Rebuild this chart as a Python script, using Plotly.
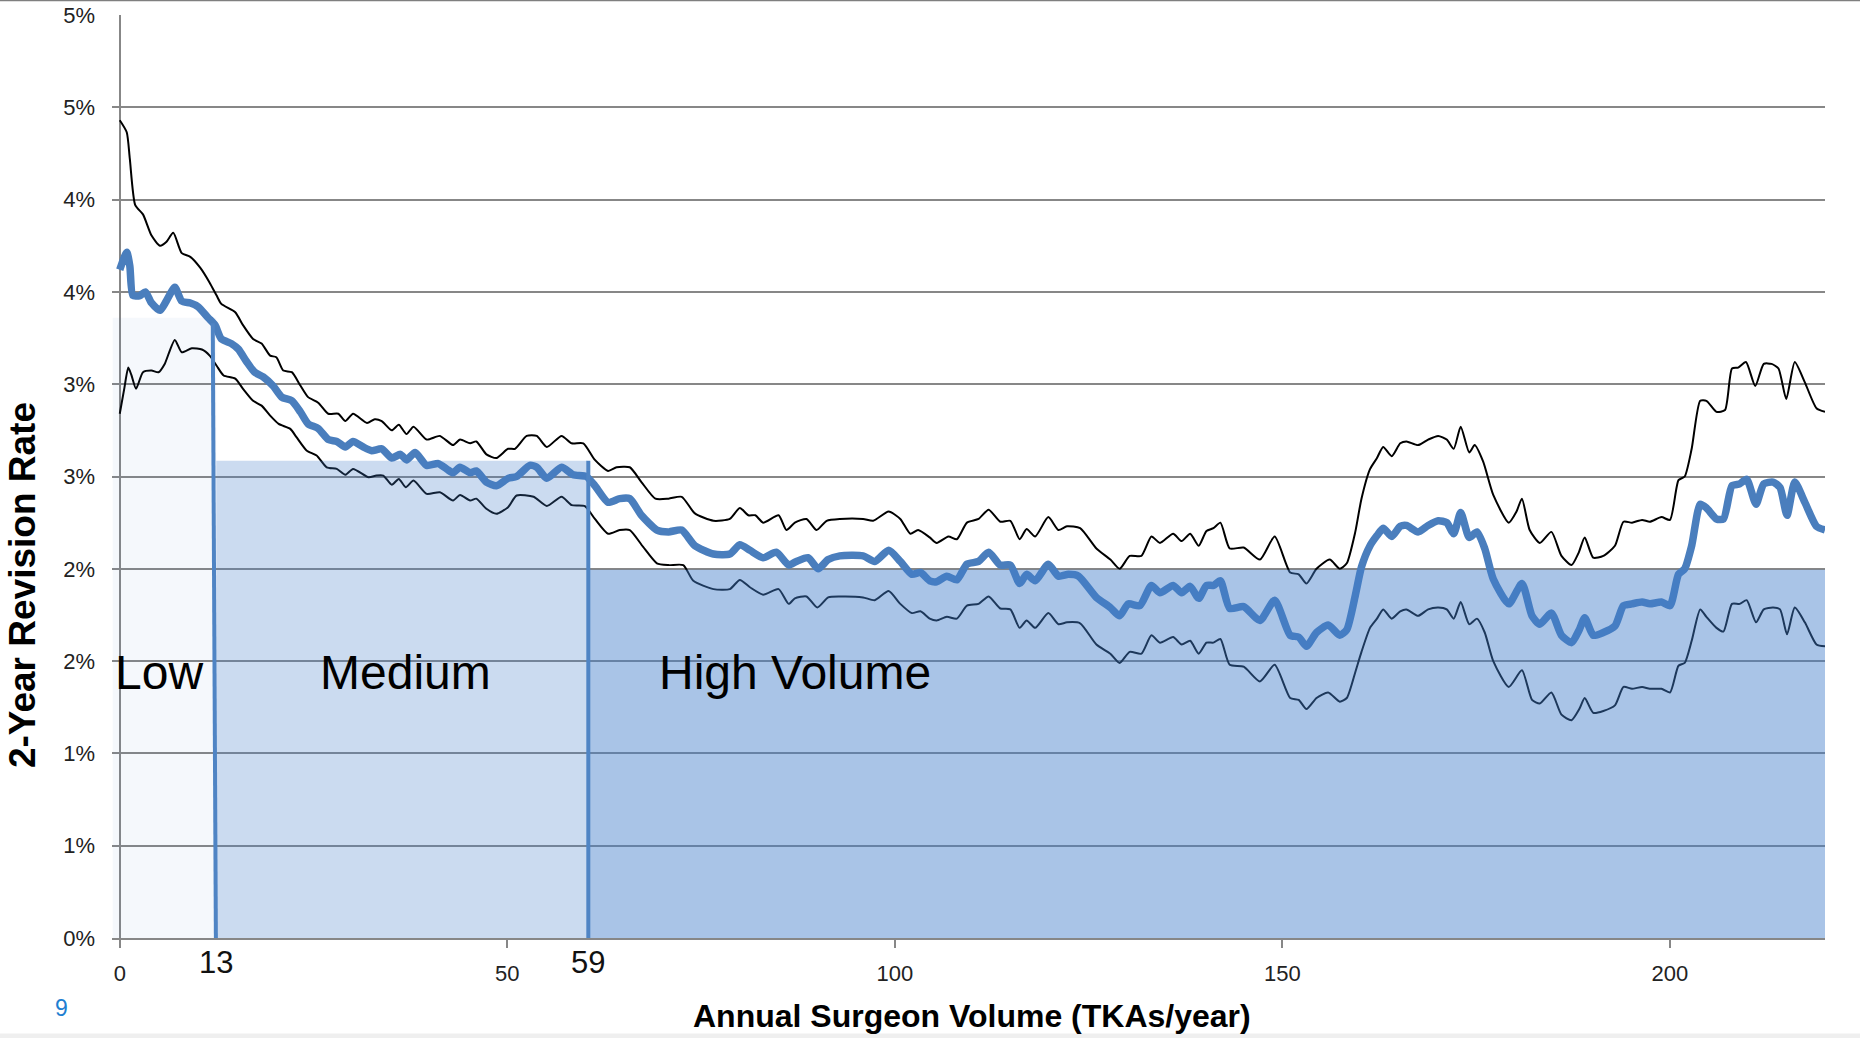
import plotly.graph_objects as go

# ---------------- data (values in %) ----------------
upper_x = [0.0, 0.9, 1.3, 2.0, 3.0, 4.1, 5.2, 6.0, 6.9, 8.0, 9.1, 10.4, 11.6, 12.5, 13.1, 14.9, 15.9, 17.2, 18.3,
           19.4, 20.2, 21.1, 22.2, 23.3, 24.3, 25.6, 26.9, 28.2, 29.1, 30.1, 31.9, 32.9, 33.8, 35.1, 36.0, 37.0,
           37.9, 39.6, 41.3, 43.0, 43.9, 45.2, 46.0, 47.3, 48.6, 50.1, 51.0,
           52.5, 53.8, 55.1, 57.0, 58.3, 59.8, 61.3, 63.0, 64.1, 65.8, 67.3, 69.1, 70.8, 72.5, 74.2, 76.6, 78.7,
           80.0, 81.1, 82.0, 83.0, 85.0, 86.0, 87.1, 88.6, 89.9, 91.2, 92.9, 95.9, 97.2, 99.2, 100.7, 102.0, 103.0,
           104.5, 105.4, 106.9, 108.0, 109.3, 110.8, 112.1, 113.6, 114.9, 116.1, 117.0, 118.1, 119.8, 121.1, 122.2,
           123.9, 126.0, 127.8, 129.0, 130.3, 131.8, 133.1, 134.2, 135.9, 137.0, 138.1, 139.2, 140.2, 141.1, 142.0,
           143.2, 145.0, 147.1, 149.0, 151.0, 152.1, 153.1, 154.4, 156.1,
           157.4, 158.3, 159.4, 160.2, 161.3, 162.2, 163.0, 164.1, 165.2, 166.0, 167.5, 168.8, 170.1, 171.2, 172.1,
           173.0, 174.1, 174.8, 175.9, 177.2, 179.2, 180.2, 180.9, 181.9, 183.2, 184.7, 186.0, 187.3, 188.2, 189.0,
           190.1, 191.4, 192.9, 194.0, 195.1, 196.4, 197.4, 198.9, 200.0, 201.1, 201.9, 202.8, 203.9, 204.7, 206.0,
           207.1, 208.0, 208.8, 209.8, 211.0, 212.1, 213.1, 214.0, 215.0, 216.1, 217.4, 218.9, 220.0]
upper_y = [4.43, 4.365, 4.22, 3.97, 3.92, 3.805, 3.75, 3.77, 3.82, 3.71, 3.69, 3.63, 3.55, 3.48, 3.435, 3.39, 3.32,
           3.245, 3.22, 3.155, 3.146, 3.074, 3.065, 2.993, 2.93, 2.90, 2.84, 2.84, 2.80, 2.84, 2.79, 2.81, 2.80,
           2.75, 2.78, 2.73, 2.77, 2.70, 2.72, 2.67, 2.70, 2.68, 2.69, 2.62, 2.60, 2.65, 2.65,
           2.72, 2.72, 2.66, 2.72, 2.68, 2.68, 2.59, 2.53, 2.55, 2.55, 2.47, 2.38, 2.38, 2.39, 2.30, 2.26, 2.27,
           2.33, 2.29, 2.29, 2.25, 2.29, 2.21, 2.25, 2.27, 2.21, 2.26, 2.27, 2.27, 2.26, 2.31, 2.27, 2.19, 2.21,
           2.17, 2.14, 2.175, 2.16, 2.25, 2.27, 2.32, 2.255, 2.26, 2.16, 2.215, 2.175, 2.28, 2.21, 2.23,
           2.22, 2.11, 2.05, 2.00, 2.07, 2.07, 2.175, 2.14, 2.19, 2.15, 2.19, 2.125, 2.205, 2.22, 2.25,
           2.11, 2.115, 2.05, 2.175, 1.98, 1.97, 1.92, 2.00, 2.05,
           2.00, 2.03, 2.20, 2.38, 2.54, 2.60, 2.66, 2.61, 2.68, 2.69, 2.67, 2.70, 2.72, 2.70, 2.65,
           2.77, 2.63, 2.67, 2.58, 2.40, 2.25, 2.31, 2.38, 2.21, 2.14, 2.20, 2.07, 2.02, 2.085, 2.17,
           2.06, 2.07, 2.125, 2.255, 2.25, 2.265, 2.255, 2.28, 2.265, 2.48, 2.50, 2.65, 2.91, 2.91, 2.85,
           2.86, 3.085, 3.09, 3.12, 2.99, 3.11, 3.11, 3.085, 2.92, 3.12, 3.01, 2.87, 2.85]

center_x = [0.0, 0.9, 1.3, 1.7, 2.6, 3.3, 4.1, 5.2, 6.0, 7.1, 8.0, 9.1, 10.1, 11.4, 12.3, 13.1, 14.4, 15.3, 16.4,
            17.4, 18.5, 19.8, 20.9, 22.2, 23.3, 24.3, 25.6, 26.9, 28.0, 29.1, 30.1, 31.4, 32.5, 33.8, 35.1, 36.2,
            37.0, 38.1, 39.6, 41.1, 42.2, 43.0, 43.9, 45.2, 46.0, 47.3, 48.6, 50.1, 51.2,
            52.9, 53.8, 55.1, 57.0, 58.5, 60.2, 61.3, 63.0, 64.5, 65.8, 67.3, 69.3, 70.8, 72.5, 74.2, 76.6, 78.7,
            80.0, 81.3, 83.0, 84.7, 86.3, 87.3, 88.8, 90.1, 91.4, 92.9, 95.9, 97.4, 99.2, 100.7, 102.2, 103.3,
            104.5, 105.4, 106.7, 108.0, 109.3, 110.8, 112.1, 113.6, 114.9, 116.1, 117.0, 118.1, 119.8, 121.1, 122.4,
            123.7, 126.0, 127.8, 129.0, 130.1, 131.6, 133.1, 134.2, 135.9, 137.0, 138.1, 139.2, 140.2, 141.1, 142.0,
            143.2, 145.0, 147.1, 149.0, 151.0, 152.1, 153.1, 154.4, 155.9,
            157.4, 158.3, 159.4, 160.2, 161.3, 162.2, 163.0, 164.1, 165.2, 166.0, 167.5, 168.8, 170.1, 171.2, 172.1,
            173.0, 174.1, 175.1, 176.1, 177.2, 179.2, 180.9, 182.2, 183.2, 184.7, 186.0, 187.3, 188.3, 189.0, 190.1,
            191.4, 192.9, 194.0, 195.1, 196.4, 197.4, 198.9, 200.0, 201.1, 201.9, 202.8, 203.9, 204.7, 206.0, 206.9,
            208.0, 209.0, 209.9, 211.1, 212.1, 213.3, 214.2, 215.1, 216.1, 217.4, 218.9, 220.0]
center_y = [3.62, 3.715, 3.64, 3.48, 3.48, 3.50, 3.44, 3.40, 3.45, 3.525, 3.45, 3.44, 3.42, 3.36, 3.32, 3.245, 3.22,
            3.19, 3.12, 3.065, 3.04, 2.99, 2.93, 2.91, 2.85, 2.785, 2.76, 2.70, 2.69, 2.66, 2.69, 2.66, 2.64, 2.65,
            2.60, 2.62, 2.59, 2.63, 2.56, 2.57, 2.54, 2.52, 2.55, 2.52, 2.53, 2.47, 2.45, 2.49, 2.50,
            2.56, 2.55, 2.49, 2.55, 2.51, 2.50, 2.45, 2.36, 2.38, 2.38, 2.29, 2.21, 2.20, 2.21, 2.125, 2.08, 2.08,
            2.13, 2.10, 2.06, 2.09, 2.02, 2.04, 2.06, 2.00, 2.05, 2.07, 2.07, 2.04, 2.10, 2.04, 1.97, 1.98,
            1.935, 1.93, 1.96, 1.94, 2.025, 2.04, 2.09, 2.02, 2.02, 1.92, 1.97, 1.935, 2.025, 1.96, 1.97,
            1.96, 1.845, 1.79, 1.745, 1.81, 1.80, 1.91, 1.87, 1.91, 1.87, 1.905, 1.84, 1.91, 1.91, 1.935,
            1.785, 1.795, 1.72, 1.83, 1.64, 1.63, 1.58, 1.655, 1.695,
            1.64, 1.67, 1.855, 2.01, 2.125, 2.18, 2.22, 2.175, 2.23, 2.235, 2.20, 2.235, 2.26, 2.25, 2.19,
            2.305, 2.17, 2.20, 2.11, 1.945, 1.81, 1.92, 1.745, 1.70, 1.76, 1.64, 1.60, 1.67, 1.735, 1.64,
            1.655, 1.69, 1.80, 1.81, 1.82, 1.81, 1.82, 1.80, 1.97, 2.00, 2.125, 2.35, 2.33, 2.27, 2.27,
            2.45, 2.46, 2.485, 2.35, 2.46, 2.47, 2.44, 2.29, 2.47, 2.36, 2.23, 2.21]

lower_x = [0.0, 0.6, 1.1, 1.5, 2.1, 3.0, 4.1, 5.0, 5.8, 7.1, 8.0, 9.3, 10.6, 11.6, 12.5, 13.4, 14.9, 15.9, 17.2,
           18.3, 19.4, 20.5, 22.0, 22.8, 24.1, 25.4, 26.7, 28.0, 29.1, 30.1, 32.1, 33.1, 34.0, 35.1, 36.0, 36.9,
           37.9, 39.6, 41.3, 43.0, 43.9, 45.2, 46.0, 47.3, 48.6, 50.1, 51.2,
           53.4, 55.1, 57.0, 58.3, 60.0, 61.3, 63.0, 64.5, 65.8, 67.5, 69.3, 70.8, 72.7, 74.0, 76.6, 78.7,
           80.0, 81.3, 83.0, 85.0, 86.3, 87.1, 88.6, 90.0, 91.4, 92.9, 95.9, 97.4, 99.2, 100.7, 102.2, 103.3,
           104.5, 105.4, 106.7, 108.0, 109.3, 110.8, 112.1, 113.6, 114.9, 116.1, 117.0, 118.1, 119.8, 121.1, 122.2,
           123.9, 126.0, 127.8, 129.0, 130.3, 131.8, 133.1, 134.2, 135.9, 137.0, 138.1, 139.2, 140.2, 141.1, 142.0,
           143.2, 145.0, 147.1, 149.0, 151.0, 152.1, 153.1, 154.4, 155.9,
           157.4, 158.3, 159.4, 160.2, 161.3, 162.2, 163.0, 164.1, 165.2, 166.0, 167.5, 168.8, 170.1, 171.2, 172.1,
           173.0, 174.1, 175.1, 176.1, 177.2, 179.2, 180.9, 182.2, 183.2, 184.7, 186.0, 187.3, 188.3, 189.0, 190.1,
           191.4, 192.9, 194.0, 195.1, 196.4, 197.4, 198.9, 200.0, 201.1, 201.9, 202.8, 203.9, 204.7, 206.0, 206.9,
           208.0, 209.0, 209.9, 211.1, 212.1, 213.3, 214.2, 215.1, 216.1, 217.4, 218.9, 220.0]
lower_y = [2.84, 2.98, 3.09, 3.05, 2.975, 3.065, 3.074, 3.065, 3.11, 3.24, 3.173, 3.195, 3.188, 3.155, 3.10, 3.047,
           3.03, 2.975, 2.91, 2.884, 2.83, 2.785, 2.758, 2.713, 2.641, 2.614, 2.55, 2.541, 2.509, 2.541, 2.496,
           2.505, 2.505, 2.455, 2.487, 2.442, 2.478, 2.406, 2.415, 2.37, 2.40, 2.37, 2.38, 2.325, 2.298, 2.334, 2.397,
           2.39, 2.34, 2.39, 2.345, 2.34, 2.27, 2.19, 2.21, 2.21, 2.12, 2.03, 2.02, 2.02, 1.935, 1.89, 1.89,
           1.94, 1.90, 1.86, 1.89, 1.81, 1.84, 1.85, 1.79, 1.845, 1.85, 1.845, 1.83, 1.88, 1.81, 1.76, 1.77,
           1.73, 1.72, 1.74, 1.73, 1.80, 1.81, 1.85, 1.785, 1.78, 1.68, 1.72, 1.68, 1.76, 1.70, 1.71,
           1.705, 1.59, 1.54, 1.49, 1.55, 1.54, 1.64, 1.60, 1.63, 1.59, 1.61, 1.54, 1.60, 1.60, 1.62,
           1.48, 1.47, 1.39, 1.48, 1.30, 1.29, 1.24, 1.30, 1.33,
           1.28, 1.30, 1.44, 1.55, 1.68, 1.73, 1.78, 1.73, 1.77, 1.78, 1.745, 1.78, 1.79, 1.78, 1.73,
           1.82, 1.70, 1.73, 1.655, 1.50, 1.36, 1.45, 1.29, 1.27, 1.33, 1.21, 1.18, 1.24, 1.30, 1.22,
           1.23, 1.26, 1.36, 1.35, 1.36, 1.35, 1.35, 1.33, 1.475, 1.49, 1.61, 1.78, 1.74, 1.68, 1.66,
           1.81, 1.81, 1.83, 1.71, 1.78, 1.79, 1.78, 1.645, 1.79, 1.71, 1.59, 1.58]

# volume groups (shaded bands) and their cut-offs
group_names = ["Low", "Medium", "High Volume"]
group_edges = [-0.9, 12.45, 60.3, 220.0]
group_rates = [3.36, 2.585, 1.995]
cutoff_labels = ["13", "59"]
cutoff_pos = [12.4, 60.45]

y_tickvals = [0, 0.5, 1.0, 1.5, 2.0, 2.5, 3.0, 3.5, 4.0, 4.5, 5.0]
y_ticktext = ["0%", "1%", "1%", "2%", "2%", "3%", "3%", "4%", "4%", "5%", "5%"]
x_tickvals = [0, 50, 100, 150, 200]

# ---------------- figure ----------------
FONT = "Liberation Sans, Arial, sans-serif"
GRID = "#878787"
fig = go.Figure()

fig.add_trace(go.Scatter(x=upper_x, y=upper_y, mode="lines",
                         line=dict(color="#000000", width=2, shape="spline", smoothing=0.6),
                         showlegend=False, hoverinfo="skip"))
fig.add_trace(go.Scatter(x=lower_x, y=lower_y, mode="lines",
                         line=dict(color="#000000", width=2, shape="spline", smoothing=0.6),
                         showlegend=False, hoverinfo="skip"))
fig.add_trace(go.Scatter(x=center_x, y=center_y, mode="lines",
                         line=dict(color="#4A7EBD", width=7.5, shape="spline", smoothing=0.6),
                         showlegend=False, hoverinfo="skip"))

shapes = []
alphas = [0.055, 0.273, 0.45]
for i in range(3):
    shapes.append(dict(type="rect", xref="x", yref="y", layer="above",
                       x0=group_edges[i], x1=group_edges[i + 1], y0=0, y1=group_rates[i],
                       fillcolor=f"rgba(64,124,202,{alphas[i]})", line=dict(width=0)))

# cut-off lines
shapes.append(dict(type="line", xref="x", yref="y", layer="above",
                   x0=cutoff_pos[0] - 0.4, x1=cutoff_pos[0], y0=3.33, y1=0,
                   line=dict(color="#4F84C4", width=4)))
shapes.append(dict(type="line", xref="x", yref="y", layer="above",
                   x0=cutoff_pos[1], x1=cutoff_pos[1], y0=group_rates[1], y1=0,
                   line=dict(color="#4F84C4", width=4)))

# slide frame decorations
shapes.append(dict(type="line", xref="paper", yref="paper", x0=-0.07, x1=1.03, y0=1.0157, y1=1.0157,
                   line=dict(color="#7F7F7F", width=1.5)))
shapes.append(dict(type="rect", xref="paper", yref="paper", x0=-0.07, x1=1.03, y0=-0.1085, y1=-0.1035,
                   fillcolor="#EFEFEF", line=dict(width=0)))

annotations = []
annotations.append(dict(x=group_edges[0], y=1.44, xref="x", yref="y", text=group_names[0], showarrow=False,
                        xanchor="left", yanchor="middle", font=dict(family=FONT, size=48, color="#000000")))
annotations.append(dict(x=36.9, y=1.44, xref="x", yref="y", text=group_names[1], showarrow=False,
                        xanchor="center", yanchor="middle", font=dict(family=FONT, size=48, color="#000000")))
annotations.append(dict(x=87.1, y=1.44, xref="x", yref="y", text=group_names[2], showarrow=False,
                        xanchor="center", yanchor="middle", font=dict(family=FONT, size=48, color="#000000")))
for lab, pos in zip(cutoff_labels, cutoff_pos):
    annotations.append(dict(x=pos, y=-0.0268, xref="x", yref="paper", text=lab, showarrow=False,
                            xanchor="center", yanchor="middle", font=dict(family=FONT, size=31, color="#111111")))
annotations.append(dict(x=0.502, y=-0.0847, xref="paper", yref="paper",
                        text="<b>Annual Surgeon Volume (TKAs/year)</b>", showarrow=False,
                        xanchor="center", yanchor="middle", font=dict(family=FONT, size=32, color="#000000")))
annotations.append(dict(x=-0.0523, y=0.3828, xref="paper", yref="paper", textangle=-90,
                        text="<b>2-Year Revision Rate</b>", showarrow=False,
                        xanchor="center", yanchor="middle", font=dict(family=FONT, size=37, color="#000000")))
annotations.append(dict(x=-0.0294, y=-0.0755, xref="paper", yref="paper", text="9", showarrow=False,
                        xanchor="center", yanchor="middle", font=dict(family=FONT, size=23, color="#1F7FD1")))

fig.update_layout(
    width=1860, height=1038, autosize=False,
    margin=dict(l=112, r=35, t=15, b=100, pad=0),
    paper_bgcolor="#FFFFFF", plot_bgcolor="#FFFFFF",
    shapes=shapes, annotations=annotations, showlegend=False,
    xaxis=dict(range=[-1.0, 220.0], tickvals=x_tickvals, ticks="outside", ticklen=8, tickwidth=1.5,
               tickcolor=GRID, showgrid=False, showline=True, linecolor=GRID, linewidth=1.5,
               zeroline=True, zerolinecolor=GRID, zerolinewidth=1.5, automargin=False,
               tickfont=dict(family=FONT, size=22, color="#222222"), ticklabelstandoff=7),
    yaxis=dict(range=[0, 5], tickvals=y_tickvals, ticktext=y_ticktext, showgrid=True, gridcolor=GRID,
               gridwidth=1.5, zeroline=False, showline=False, ticks="", automargin=False,
               tickfont=dict(family=FONT, size=22, color="#222222"), ticklabelstandoff=16),
)

fig.write_html("out.html", config={"displayModeBar": False},
               post_script="document.body.style.margin='0px';document.body.style.overflow='hidden';")
